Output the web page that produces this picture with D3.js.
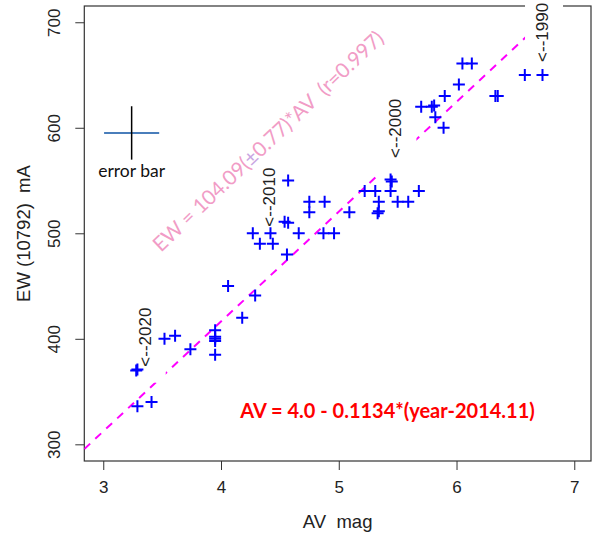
<!DOCTYPE html>
<html lang="en">
<head>
<meta charset="utf-8">
<script src="https://d3js.org/d3.v7.min.js"></script>
<style>
  body { margin: 0; background: #fff; }
  .tick text { font-family: "Liberation Sans", Arial, sans-serif; font-size: 17px; fill: #222; }
  .tick line { stroke: #333; }
</style>
</head>
<body>
<script>
// extinction AV (mag) and equivalent width of 10792 (mA)
var av = [3.29, 3.41, 3.28, 3.29, 3.52, 3.61, 3.74, 3.95, 3.95, 3.95, 3.95, 3.95,
          4.06, 4.18, 4.29, 4.56, 4.27, 4.42, 4.33, 4.44, 4.54, 4.57, 4.66, 4.57,
          4.75, 4.88, 4.75, 4.87, 4.96, 5.09, 5.22, 5.31, 5.34, 5.34, 5.33, 5.44,
          5.45, 5.44, 5.50, 5.59, 5.68, 5.70, 5.79, 5.81, 5.82, 5.89, 5.90, 6.02,
          6.05, 6.13, 6.33, 6.35, 6.58, 6.73];
var ew = [336, 340, 370, 371, 400, 403, 390, 408, 402, 400, 398, 385,
          450, 420, 441, 480, 500, 500, 490, 490, 511, 510, 500, 550,
          530, 530, 520, 500, 500, 520, 540, 540, 530, 521, 519, 551,
          549, 540, 530, 530, 540, 620, 620, 621, 610, 600, 630, 641,
          661, 661, 630, 630, 650, 650];

var xTicks = [3, 4, 5, 6, 7];
var yTicks = [300, 400, 500, 600, 700];
var xLim = [2.839, 7.142];
var yLim = [284.2, 715.4];

var slope = 104.09;   // EW = slope * AV

// year labels: text, AV, EW of the label start
var yearText = ["<--1990", "<--2000", "<--2010", "<--2020"];
var yearAV = [6.777, 5.532, 4.458, 3.403];
var yearEW = [662.4, 571.4, 506.3, 373.6];

// error bar sample
var errAV = 3.241, errEW = 595.1, errDAV = 0.234, errDEW = 25.3;

var W = 595, H = 537;
var x = d3.scaleLinear().domain(xLim).range([84.3, 591]);
var y = d3.scaleLinear().domain(yLim).range([461, 6]);

var svg = d3.select("body").append("svg")
  .attr("width", W).attr("height", H);

svg.append("defs").append("clipPath").attr("id", "clip")
  .append("rect")
  .attr("x", x(xLim[0])).attr("y", y(yLim[1]))
  .attr("width", x(xLim[1]) - x(xLim[0]))
  .attr("height", y(yLim[0]) - y(yLim[1]));

// axes
var xAxis = svg.append("g")
  .attr("transform", "translate(0," + y(yLim[0]) + ")")
  .call(d3.axisBottom(x).tickValues(xTicks).tickSize(9).tickFormat(d3.format("d")));
xAxis.select(".domain").remove();
xAxis.selectAll(".tick text").attr("y", 32).attr("dy", 0);

var yAxis = svg.append("g")
  .attr("transform", "translate(" + x(xLim[0]) + ",0)")
  .call(d3.axisLeft(y).tickValues(yTicks).tickSize(9).tickFormat(d3.format("d")));
yAxis.select(".domain").remove();
yAxis.selectAll(".tick text")
  .attr("transform", "rotate(-90)")
  .attr("x", 0).attr("y", -24).attr("dy", 0)
  .attr("text-anchor", "middle");

// axis titles
svg.append("text")
  .attr("x", (x(xLim[0]) + x(xLim[1])) / 2).attr("y", 528)
  .attr("text-anchor", "middle")
  .style("font-family", "Liberation Sans, Arial, sans-serif")
  .style("font-size", "18.5px").style("fill", "#222")
  .style("white-space", "pre")
  .text("AV  mag");

svg.append("text")
  .attr("transform", "translate(29.5," + (y(yLim[0]) + y(yLim[1])) / 2 + ") rotate(-90)")
  .attr("text-anchor", "middle")
  .style("font-family", "Liberation Sans, Arial, sans-serif")
  .style("font-size", "18.5px").style("fill", "#222")
  .style("white-space", "pre")
  .text("EW (10792)  mA");

// frame
svg.append("rect")
  .attr("x", x(xLim[0])).attr("y", y(yLim[1]))
  .attr("width", x(xLim[1]) - x(xLim[0]))
  .attr("height", y(yLim[0]) - y(yLim[1]))
  .attr("fill", "none").attr("stroke", "#333").attr("stroke-width", 1.2);

// fit line
svg.append("line")
  .attr("clip-path", "url(#clip)")
  .attr("x1", x(xLim[0])).attr("y1", y(slope * xLim[0]))
  .attr("x2", x(xLim[1])).attr("y2", y(slope * xLim[1]))
  .attr("stroke", "#ff00ff").attr("stroke-width", 2)
  .attr("stroke-dasharray", "8,7");

// year labels with white boxes
yearText.forEach(function(t, i) {
  var g = svg.append("g")
    .attr("transform", "translate(" + x(yearAV[i]) + "," + y(yearEW[i]) + ") rotate(-90)");
  var box = g.append("rect").attr("fill", "#fff");
  var txt = g.append("text")
    .attr("x", 0).attr("y", 0)
    .style("font-family", "Liberation Sans, Arial, sans-serif")
    .style("font-size", "17px").style("fill", "#222")
    .text(t);
  var bb = txt.node().getBBox();
  box.attr("x", bb.x - 16).attr("y", bb.y - 8)
    .attr("width", bb.width + 20).attr("height", bb.height + 19);
});

// error bar sample
svg.append("line")
  .attr("x1", x(errAV - errDAV)).attr("x2", x(errAV + errDAV))
  .attr("y1", y(errEW)).attr("y2", y(errEW))
  .attr("stroke", "#4a7ebb").attr("stroke-width", 2);
svg.append("line")
  .attr("x1", x(errAV)).attr("x2", x(errAV))
  .attr("y1", y(errEW + errDEW)).attr("y2", y(errEW - errDEW))
  .attr("stroke", "#000").attr("stroke-width", 1.5);
svg.append("text")
  .attr("x", x(errAV)).attr("y", y(552.9))
  .attr("text-anchor", "middle")
  .style("font-family", "Lato, sans-serif")
  .style("font-size", "17.5px").style("fill", "#111")
  .text("error bar");

// data points (+)
var pts = svg.append("g");
av.forEach(function(a, i) {
  var cx = x(a), cy = y(ew[i]), r = 6;
  pts.append("path")
    .attr("d", "M" + (cx - r) + "," + cy + "H" + (cx + r) + "M" + cx + "," + (cy - r) + "V" + (cy + r))
    .attr("stroke", "#0000ff").attr("stroke-width", 2).attr("fill", "none");
});

// fit annotation
var fit = svg.append("text")
  .attr("transform", "translate(" + x(3.49) + "," + y(481.5) + ") rotate(-43.5)")
  .style("font-family", "Lato, sans-serif")
  .style("font-size", "20.5px").style("fill", "#f19cc6")
  .style("white-space", "pre");
fit.append("tspan").text("EW = 104.09(");
fit.append("tspan").style("fill", "#c9a6e2").text("\u00b1");
fit.append("tspan").text("0.77)*AV  (r=0.997)");

// extinction relation
svg.append("text")
  .attr("x", x(4.163)).attr("y", y(324.5))
  .style("font-family", "Lato, sans-serif")
  .style("font-size", "20px").style("font-weight", "bold")
  .style("fill", "#ff0000")
  .text("AV = 4.0 - 0.1134*(year-2014.11)");
</script>
</body>
</html>
